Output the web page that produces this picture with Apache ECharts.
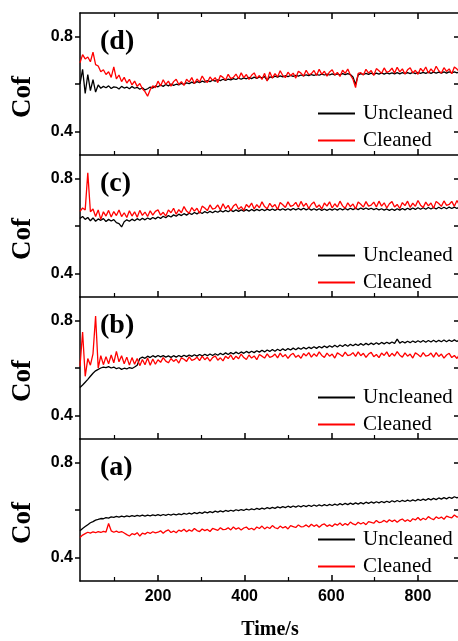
<!DOCTYPE html>
<html>
<head>
<meta charset="utf-8">
<script src="https://cdn.jsdelivr.net/npm/echarts@6/dist/echarts.min.js"></script>
<style>
  html, body { margin: 0; padding: 0; background: #fff; }
  #chart { width: 458px; height: 641px; }
</style>
</head>
<body>
<div id="chart"></div>
<script>
// Sampling grid of the friction-coefficient records (s)
const T_START = 20;
const T_STEP = 6;

// Axis ticks and labels
const xMajorTicks = [200, 400, 600, 800];
const xMinorTicks = [100, 300, 500, 700, 900];
const yTicks = [0.4, 0.6, 0.8];
const yLabelValues = [0.4, 0.8];

const seriesNames = ['Uncleaned', 'Cleaned'];
const panelLabels = ['(d)', '(c)', '(b)', '(a)'];

// Panel (d)
const cofD_uncleaned = [
  0.600, 0.662, 0.560, 0.640, 0.572, 0.618, 0.566, 0.596, 0.582, 0.590,
  0.584, 0.592, 0.581, 0.588, 0.586, 0.579, 0.590, 0.583, 0.587, 0.580,
  0.589, 0.582, 0.586, 0.578, 0.584, 0.575, 0.580, 0.587, 0.583, 0.592,
  0.588, 0.596, 0.590, 0.598, 0.592, 0.600, 0.594, 0.599, 0.596, 0.603,
  0.598, 0.605, 0.601, 0.608, 0.603, 0.610, 0.606, 0.612, 0.608, 0.614,
  0.610, 0.616, 0.612, 0.618, 0.614, 0.620, 0.615, 0.621, 0.617, 0.623,
  0.619, 0.625, 0.620, 0.626, 0.622, 0.628, 0.623, 0.629, 0.624, 0.630,
  0.626, 0.631, 0.615, 0.630, 0.627, 0.633, 0.629, 0.634, 0.630, 0.635,
  0.631, 0.636, 0.632, 0.637, 0.633, 0.638, 0.634, 0.639, 0.635, 0.640,
  0.636, 0.641, 0.637, 0.642, 0.638, 0.642, 0.638, 0.643, 0.639, 0.643,
  0.639, 0.644, 0.640, 0.644, 0.640, 0.630, 0.598, 0.638, 0.644, 0.640,
  0.645, 0.641, 0.646, 0.641, 0.646, 0.642, 0.647, 0.642, 0.647, 0.643,
  0.647, 0.643, 0.648, 0.643, 0.648, 0.644, 0.648, 0.644, 0.649, 0.644,
  0.649, 0.645, 0.649, 0.645, 0.650, 0.645, 0.650, 0.646, 0.650, 0.646,
  0.651, 0.646, 0.651, 0.647, 0.651, 0.647, 0.652
];
const cofD_cleaned = [
  0.690, 0.724, 0.706, 0.714, 0.694, 0.735, 0.682, 0.676, 0.652, 0.660,
  0.640, 0.652, 0.628, 0.672, 0.622, 0.638, 0.610, 0.628, 0.604, 0.620,
  0.596, 0.612, 0.590, 0.602, 0.580, 0.568, 0.548, 0.576, 0.592, 0.584,
  0.612, 0.592, 0.618, 0.598, 0.612, 0.591, 0.610, 0.620, 0.598, 0.610,
  0.594, 0.620, 0.608, 0.627, 0.602, 0.621, 0.608, 0.634, 0.615, 0.606,
  0.630, 0.615, 0.627, 0.606, 0.636, 0.628, 0.617, 0.641, 0.623, 0.628,
  0.642, 0.622, 0.647, 0.627, 0.640, 0.619, 0.637, 0.647, 0.624, 0.636,
  0.619, 0.645, 0.612, 0.651, 0.625, 0.644, 0.630, 0.656, 0.636, 0.627,
  0.650, 0.635, 0.646, 0.625, 0.654, 0.646, 0.634, 0.658, 0.639, 0.644,
  0.657, 0.636, 0.662, 0.641, 0.654, 0.633, 0.651, 0.660, 0.638, 0.649,
  0.632, 0.658, 0.645, 0.663, 0.638, 0.620, 0.585, 0.645, 0.648, 0.638,
  0.662, 0.646, 0.657, 0.636, 0.665, 0.656, 0.645, 0.668, 0.649, 0.654,
  0.667, 0.646, 0.671, 0.651, 0.664, 0.642, 0.660, 0.669, 0.647, 0.658,
  0.641, 0.666, 0.653, 0.672, 0.646, 0.664, 0.650, 0.675, 0.656, 0.646,
  0.669, 0.653, 0.664, 0.643, 0.672, 0.663, 0.651
];

// Panel (c)
const cofC_uncleaned = [
  0.632, 0.640, 0.628, 0.636, 0.622, 0.634, 0.620, 0.630, 0.624, 0.631,
  0.619, 0.628, 0.621, 0.627, 0.614, 0.610, 0.596, 0.618, 0.626, 0.620,
  0.629, 0.622, 0.631, 0.624, 0.633, 0.626, 0.634, 0.628, 0.636, 0.630,
  0.638, 0.632, 0.641, 0.635, 0.644, 0.638, 0.647, 0.641, 0.650, 0.644,
  0.652, 0.646, 0.654, 0.649, 0.657, 0.651, 0.659, 0.653, 0.661, 0.655,
  0.662, 0.656, 0.663, 0.658, 0.665, 0.659, 0.666, 0.660, 0.667, 0.661,
  0.668, 0.662, 0.668, 0.663, 0.669, 0.663, 0.670, 0.664, 0.670, 0.665,
  0.671, 0.665, 0.671, 0.666, 0.672, 0.666, 0.672, 0.667, 0.673, 0.667,
  0.673, 0.667, 0.674, 0.668, 0.674, 0.668, 0.675, 0.668, 0.674, 0.667,
  0.673, 0.667, 0.673, 0.666, 0.672, 0.666, 0.672, 0.667, 0.673, 0.667,
  0.674, 0.668, 0.674, 0.668, 0.675, 0.669, 0.675, 0.669, 0.676, 0.670,
  0.676, 0.670, 0.675, 0.669, 0.674, 0.668, 0.673, 0.667, 0.672, 0.666,
  0.672, 0.666, 0.673, 0.667, 0.674, 0.668, 0.675, 0.669, 0.676, 0.670,
  0.677, 0.671, 0.677, 0.671, 0.678, 0.672, 0.678, 0.672, 0.679, 0.673,
  0.679, 0.673, 0.680, 0.674, 0.680, 0.674, 0.681
];
const cofC_cleaned = [
  0.662, 0.676, 0.668, 0.825, 0.660, 0.672, 0.640, 0.668, 0.628, 0.660,
  0.642, 0.666, 0.638, 0.661, 0.644, 0.668, 0.640, 0.656, 0.636, 0.664,
  0.642, 0.660, 0.637, 0.666, 0.645, 0.659, 0.640, 0.664, 0.646, 0.662,
  0.668, 0.646, 0.658, 0.642, 0.668, 0.656, 0.675, 0.650, 0.669, 0.656,
  0.682, 0.663, 0.654, 0.678, 0.663, 0.675, 0.654, 0.684, 0.676, 0.665,
  0.689, 0.671, 0.675, 0.689, 0.668, 0.694, 0.673, 0.687, 0.665, 0.684,
  0.693, 0.671, 0.682, 0.666, 0.691, 0.679, 0.697, 0.672, 0.690, 0.677,
  0.702, 0.682, 0.673, 0.696, 0.680, 0.691, 0.670, 0.699, 0.690, 0.678,
  0.702, 0.683, 0.687, 0.700, 0.679, 0.704, 0.683, 0.696, 0.674, 0.692,
  0.701, 0.678, 0.689, 0.672, 0.697, 0.684, 0.702, 0.676, 0.694, 0.680,
  0.705, 0.685, 0.675, 0.698, 0.682, 0.693, 0.672, 0.701, 0.692, 0.680,
  0.703, 0.684, 0.688, 0.701, 0.680, 0.705, 0.684, 0.698, 0.676, 0.694,
  0.703, 0.680, 0.691, 0.674, 0.699, 0.686, 0.705, 0.679, 0.697, 0.683,
  0.708, 0.688, 0.678, 0.701, 0.685, 0.697, 0.675, 0.704, 0.695, 0.683,
  0.706, 0.687, 0.691, 0.704, 0.683, 0.708, 0.687
];

// Panel (b)
const cofB_uncleaned = [
  0.518, 0.528, 0.540, 0.552, 0.565, 0.578, 0.588, 0.594, 0.600, 0.604,
  0.602, 0.606, 0.600, 0.604, 0.597, 0.601, 0.594, 0.599, 0.596, 0.602,
  0.598, 0.604, 0.612, 0.640, 0.646, 0.641, 0.650, 0.644, 0.652, 0.646,
  0.653, 0.647, 0.652, 0.646, 0.651, 0.645, 0.652, 0.646, 0.653, 0.647,
  0.654, 0.648, 0.655, 0.649, 0.656, 0.650, 0.657, 0.651, 0.658, 0.652,
  0.659, 0.653, 0.660, 0.654, 0.662, 0.656, 0.664, 0.657, 0.665, 0.659,
  0.667, 0.660, 0.668, 0.662, 0.670, 0.664, 0.671, 0.665, 0.673, 0.667,
  0.675, 0.668, 0.676, 0.670, 0.678, 0.671, 0.679, 0.673, 0.681, 0.674,
  0.682, 0.676, 0.684, 0.677, 0.685, 0.679, 0.687, 0.680, 0.688, 0.682,
  0.690, 0.683, 0.691, 0.685, 0.693, 0.686, 0.694, 0.688, 0.696, 0.689,
  0.697, 0.691, 0.699, 0.692, 0.700, 0.694, 0.701, 0.695, 0.703, 0.696,
  0.704, 0.698, 0.705, 0.699, 0.707, 0.700, 0.708, 0.702, 0.709, 0.703,
  0.710, 0.704, 0.722, 0.705, 0.712, 0.706, 0.713, 0.707, 0.714, 0.708,
  0.715, 0.709, 0.716, 0.709, 0.716, 0.710, 0.717, 0.710, 0.717, 0.711,
  0.718, 0.711, 0.718, 0.712, 0.719, 0.712, 0.719
];
const cofB_cleaned = [
  0.607, 0.752, 0.565, 0.640, 0.612, 0.660, 0.820, 0.600, 0.652, 0.614,
  0.648, 0.618, 0.655, 0.622, 0.670, 0.626, 0.652, 0.618, 0.646, 0.612,
  0.644, 0.616, 0.640, 0.610, 0.636, 0.614, 0.642, 0.612, 0.638, 0.616,
  0.635, 0.624, 0.644, 0.629, 0.622, 0.640, 0.628, 0.637, 0.621, 0.643,
  0.637, 0.628, 0.647, 0.632, 0.636, 0.646, 0.631, 0.650, 0.635, 0.645,
  0.629, 0.644, 0.651, 0.633, 0.643, 0.630, 0.650, 0.640, 0.655, 0.635,
  0.650, 0.639, 0.659, 0.644, 0.636, 0.655, 0.642, 0.651, 0.635, 0.657,
  0.650, 0.642, 0.660, 0.645, 0.649, 0.659, 0.643, 0.663, 0.647, 0.657,
  0.641, 0.655, 0.662, 0.645, 0.654, 0.641, 0.661, 0.651, 0.665, 0.646,
  0.660, 0.649, 0.668, 0.653, 0.645, 0.663, 0.650, 0.659, 0.642, 0.664,
  0.657, 0.649, 0.667, 0.652, 0.655, 0.665, 0.649, 0.668, 0.652, 0.662,
  0.645, 0.659, 0.666, 0.648, 0.657, 0.644, 0.663, 0.653, 0.668, 0.648,
  0.662, 0.651, 0.669, 0.654, 0.646, 0.664, 0.650, 0.659, 0.642, 0.664,
  0.657, 0.647, 0.665, 0.650, 0.653, 0.663, 0.646, 0.665, 0.649, 0.659,
  0.642, 0.655, 0.662, 0.644, 0.653, 0.640, 0.659
];

// Panel (a)
const cofA_uncleaned = [
  0.512, 0.522, 0.530, 0.538, 0.546, 0.551, 0.557, 0.560, 0.564, 0.563,
  0.568, 0.566, 0.571, 0.569, 0.573, 0.570, 0.574, 0.571, 0.575, 0.572,
  0.576, 0.573, 0.577, 0.574, 0.578, 0.574, 0.578, 0.575, 0.579, 0.576,
  0.580, 0.576, 0.581, 0.577, 0.582, 0.578, 0.583, 0.579, 0.584, 0.580,
  0.586, 0.582, 0.587, 0.583, 0.589, 0.585, 0.590, 0.586, 0.592, 0.588,
  0.593, 0.589, 0.595, 0.591, 0.596, 0.592, 0.598, 0.594, 0.599, 0.595,
  0.601, 0.597, 0.602, 0.598, 0.604, 0.600, 0.605, 0.601, 0.607, 0.603,
  0.608, 0.604, 0.610, 0.606, 0.611, 0.607, 0.613, 0.609, 0.614, 0.610,
  0.616, 0.611, 0.617, 0.612, 0.618, 0.613, 0.619, 0.614, 0.620, 0.615,
  0.621, 0.616, 0.622, 0.617, 0.623, 0.618, 0.624, 0.619, 0.625, 0.620,
  0.627, 0.622, 0.628, 0.623, 0.629, 0.624, 0.630, 0.625, 0.631, 0.626,
  0.633, 0.628, 0.634, 0.629, 0.635, 0.630, 0.636, 0.631, 0.637, 0.632,
  0.639, 0.634, 0.640, 0.635, 0.641, 0.636, 0.642, 0.637, 0.643, 0.638,
  0.645, 0.640, 0.646, 0.641, 0.648, 0.643, 0.649, 0.644, 0.651, 0.646,
  0.652, 0.647, 0.654, 0.649, 0.656, 0.651, 0.657
];
const cofA_cleaned = [
  0.484, 0.494, 0.500, 0.506, 0.502, 0.508, 0.504, 0.509, 0.505, 0.510,
  0.507, 0.543, 0.512, 0.506, 0.511, 0.505, 0.509, 0.503, 0.496, 0.490,
  0.500, 0.496, 0.504, 0.490, 0.502, 0.498, 0.506, 0.501, 0.508, 0.503,
  0.506, 0.512, 0.502, 0.511, 0.516, 0.505, 0.511, 0.504, 0.515, 0.510,
  0.519, 0.508, 0.516, 0.510, 0.522, 0.513, 0.509, 0.520, 0.513, 0.518,
  0.509, 0.522, 0.518, 0.514, 0.525, 0.517, 0.518, 0.525, 0.516, 0.528,
  0.519, 0.525, 0.515, 0.524, 0.528, 0.518, 0.523, 0.516, 0.528, 0.522,
  0.532, 0.520, 0.528, 0.522, 0.534, 0.525, 0.521, 0.532, 0.524, 0.530,
  0.520, 0.534, 0.530, 0.526, 0.537, 0.529, 0.530, 0.537, 0.528, 0.540,
  0.531, 0.538, 0.527, 0.537, 0.541, 0.531, 0.537, 0.530, 0.541, 0.536,
  0.545, 0.534, 0.543, 0.536, 0.549, 0.541, 0.537, 0.548, 0.541, 0.547,
  0.538, 0.551, 0.548, 0.544, 0.556, 0.547, 0.549, 0.556, 0.548, 0.559,
  0.551, 0.558, 0.548, 0.557, 0.562, 0.552, 0.559, 0.551, 0.563, 0.558,
  0.568, 0.557, 0.565, 0.559, 0.572, 0.564, 0.559, 0.571, 0.564, 0.570,
  0.561, 0.574, 0.570, 0.567, 0.579, 0.570, 0.572
];

// Panels from top to bottom
const panelData = [
  [cofD_uncleaned, cofD_cleaned],
  [cofC_uncleaned, cofC_cleaned],
  [cofB_uncleaned, cofB_cleaned],
  [cofA_uncleaned, cofA_cleaned]
];

const SANS = '"Liberation Sans", Arial, sans-serif';
const SERIF = '"Liberation Serif", "Times New Roman", serif';
const lineColors = ['#000000', '#ff0000'];

const PLOT_LEFT = 80;
const PLOT_WIDTH = 380;
const X_MIN = 20;
const X_MAX = 897;
const PANEL_TOP = 13;
const PANEL_H = 142;

const grid = [], xAxis = [], yAxis = [], series = [], legend = [], graphic = [];
const axisLine = { show: true, onZero: false, lineStyle: { color: '#000', width: 1.5 } };

panelData.forEach((pair, p) => {
  const top = PANEL_TOP + p * PANEL_H;
  const isBottom = p === panelData.length - 1;
  grid.push({
    left: PLOT_LEFT, top: top, width: PLOT_WIDTH, height: PANEL_H,
    containLabel: false, outerBoundsMode: 'none'
  });

  const baseX = { type: 'value', gridIndex: p, min: X_MIN, max: X_MAX, splitLine: { show: false } };
  const mainX = xAxis.length;
  // bottom axis, major ticks (+ labels on the lowest panel)
  xAxis.push(Object.assign({}, baseX, {
    position: 'bottom',
    axisLine: axisLine,
    axisTick: { show: true, inside: true, length: 6, customValues: xMajorTicks, lineStyle: { color: '#000', width: 1.5 } },
    axisLabel: {
      show: isBottom, customValues: xMajorTicks, margin: 8,
      fontFamily: SANS, fontWeight: 'bold', fontSize: 16, color: '#000'
    },
    name: isBottom ? 'Time/s' : '',
    nameLocation: 'middle', nameGap: 39,
    nameTextStyle: { fontFamily: SERIF, fontWeight: 'bold', fontSize: 20, color: '#000' }
  }));
  // bottom axis, minor ticks
  xAxis.push(Object.assign({}, baseX, {
    position: 'bottom',
    axisLine: { show: false },
    axisTick: { show: true, inside: true, length: 4, customValues: xMinorTicks, lineStyle: { color: '#000', width: 1.2 } },
    axisLabel: { show: false }
  }));
  if (p === 0) {
    // frame along the top with mirrored ticks
    xAxis.push(Object.assign({}, baseX, {
      position: 'top',
      axisLine: axisLine,
      axisTick: { show: true, inside: true, length: 6, customValues: xMajorTicks, lineStyle: { color: '#000', width: 1.5 } },
      axisLabel: { show: false }
    }));
    xAxis.push(Object.assign({}, baseX, {
      position: 'top',
      axisLine: { show: false },
      axisTick: { show: true, inside: true, length: 4, customValues: xMinorTicks, lineStyle: { color: '#000', width: 1.2 } },
      axisLabel: { show: false }
    }));
  }

  const mainY = yAxis.length;
  yAxis.push({
    type: 'value', gridIndex: p, min: 0.3, max: 0.9, position: 'left',
    splitLine: { show: false },
    axisLine: axisLine,
    axisTick: { show: true, inside: false, length: 5, customValues: yTicks, lineStyle: { color: '#000', width: 1.5 } },
    axisLabel: {
      customValues: yLabelValues, margin: 7,
      formatter: v => v.toFixed(1),
      fontFamily: SANS, fontWeight: 'bold', fontSize: 16, color: '#000'
    }
  });
  yAxis.push({
    type: 'value', gridIndex: p, min: 0.3, max: 0.9, position: 'right',
    splitLine: { show: false },
    axisLine: axisLine,
    axisTick: { show: true, inside: true, length: 6, customValues: yTicks, lineStyle: { color: '#000', width: 1.5 } },
    axisLabel: { show: false }
  });

  pair.forEach((vals, s) => {
    series.push({
      name: seriesNames[s],
      type: 'line',
      xAxisIndex: mainX,
      yAxisIndex: mainY,
      showSymbol: false,
      symbol: 'none',
      animation: false,
      color: lineColors[s],
      lineStyle: { color: lineColors[s], width: 1.3 },
      data: vals.map((v, i) => [T_START + i * T_STEP, v])
    });
  });

  legend.push({
    data: seriesNames,
    orient: 'vertical',
    left: 318,
    top: top + 90,
    padding: 0,
    itemWidth: 37,
    itemHeight: 2,
    itemGap: 6,
    icon: 'rect',
    selectedMode: false,
    textStyle: { fontFamily: SERIF, fontSize: 21, color: '#000', lineHeight: 21, padding: [0, 0, 0, 3] }
  });

  graphic.push({
    type: 'text', left: 100, top: top + 15,
    style: { text: panelLabels[p], font: 'bold 28px ' + SERIF, fill: '#000' }
  });
  graphic.push({
    type: 'text', x: 23, y: top + 84,
    rotation: Math.PI / 2,
    style: { text: 'Cof', font: 'bold 27px ' + SERIF, fill: '#000', align: 'center', verticalAlign: 'middle' }
  });
});

const chart = echarts.init(document.getElementById('chart'), null, { renderer: 'canvas' });
chart.setOption({
  backgroundColor: '#ffffff',
  animation: false,
  grid: grid,
  xAxis: xAxis,
  yAxis: yAxis,
  legend: legend,
  graphic: graphic,
  series: series
});
</script>
</body>
</html>
